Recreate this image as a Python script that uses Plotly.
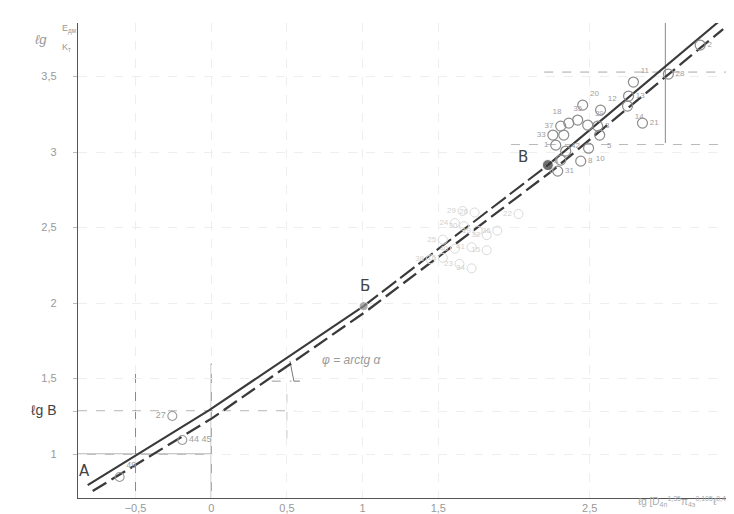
import plotly.graph_objects as go

# ---- data ----
# main correlation lines (solid upper, dashed lower)
line_solid_x = [-0.816, -0.013, 1.007, 2.224, 3.349]
line_solid_y = [0.795, 1.291, 1.980, 2.914, 3.861]
line_dash_x = [-0.783, 0.007, 1.026, 2.250, 3.382]
line_dash_y = [0.755, 1.238, 1.947, 2.874, 3.815]

# experimental points (upper cluster)
pts_x = [3.23, 3.02, 2.789, 2.757, 2.75, 2.849, 2.572, 2.454, 2.362, 2.421, 2.487,
         2.309, 2.257, 2.329, 2.553, 2.566, 2.493, 2.342, 2.276, 2.289, 2.441, 2.309]
pts_y = [3.709, 3.517, 3.464, 3.371, 3.305, 3.192, 3.278, 3.311, 3.192, 3.212, 3.179,
         3.172, 3.113, 3.113, 3.172, 3.113, 3.026, 3.007, 3.046, 2.874, 2.940, 2.947]
pts_lab = ["2", "28", "11", "13", "14", "21", "12", "20", "18", "35", "39",
           "37", "33", "42", "3", "5", "10", "4", "1", "31", "8", "6"]
pts_pos = ["middle right", "middle right", "top right", "middle right", "bottom right",
           "middle right", "top right", "top right", "top left", "top center", "top right",
           "middle left", "middle left", "bottom right", "middle right", "bottom right",
           "bottom right", "bottom left", "middle left", "middle right", "middle right",
           "bottom left"]

# faint points (middle cluster)
mid_x = [1.66, 1.74, 1.61, 1.67, 1.76, 1.82, 1.89, 1.53, 1.61, 1.72, 1.82, 1.45, 1.53, 1.64, 1.72, 2.03]
mid_y = [2.61, 2.60, 2.53, 2.51, 2.48, 2.45, 2.48, 2.42, 2.36, 2.37, 2.35, 2.29, 2.30, 2.26, 2.23, 2.59]
mid_lab = ["29", "26", "24", "30", "19", "32", "36", "25", "40", "41", "15", "38", "16", "23", "34", "22"]

# lower points
low_x = [-0.257, -0.191, -0.605]
low_y = [1.252, 1.093, 0.848]
low_lab = ["27", "44 45", "49"]
low_pos = ["middle left", "middle right", "top right"]

# characteristic points Б and В
key_x = [1.007, 2.224]
key_y = [1.980, 2.914]
key_col = ["#8a8a8a", "#333333"]

lgB = 1.285
x_ticks = [-0.5, 0, 0.5, 1, 1.5, 2.5]
x_ticktext = ["−0,5", "0", "0,5", "1", "1,5", "2,5"]
y_ticks = [1, lgB, 1.5, 2, 2.5, 3, 3.5]
y_ticktext = ["1", "<span style='color:#444;font-size:14px'>ℓg B</span>", "1,5", "2", "2,5", "3", "3,5"]

fig = go.Figure()

# lower dashed line
fig.add_trace(go.Scatter(x=line_dash_x, y=line_dash_y, mode="lines",
                         line=dict(color="#3a3a3a", width=2.3, dash="16px,6px"),
                         hoverinfo="skip", showlegend=False))
# upper solid line: solid A..Б, dashed Б..В, solid В..Г
fig.add_trace(go.Scatter(x=line_solid_x[:3], y=line_solid_y[:3], mode="lines",
                         line=dict(color="#3a3a3a", width=2.1), showlegend=False))
fig.add_trace(go.Scatter(x=line_solid_x[2:4], y=line_solid_y[2:4], mode="lines",
                         line=dict(color="#3a3a3a", width=2.1, dash="18px,5px"), showlegend=False))
fig.add_trace(go.Scatter(x=line_solid_x[3:], y=line_solid_y[3:], mode="lines",
                         line=dict(color="#3a3a3a", width=2.1), showlegend=False))

# faint middle cluster
fig.add_trace(go.Scatter(x=mid_x, y=mid_y, mode="markers+text", text=mid_lab,
                         textposition="middle left",
                         textfont=dict(size=8, color="#d2d2d2"),
                         marker=dict(symbol="circle-open", size=9, color="#dadada", line=dict(width=1)),
                         showlegend=False))
# upper cluster
fig.add_trace(go.Scatter(x=pts_x, y=pts_y, mode="markers+text", text=pts_lab,
                         textposition=pts_pos,
                         textfont=dict(size=8, color="#a0a0a0"),
                         marker=dict(symbol="circle-open", size=10, color="#8c8c8c", line=dict(width=1.2)),
                         showlegend=False))
# lower points
fig.add_trace(go.Scatter(x=low_x, y=low_y, mode="markers+text", text=low_lab,
                         textposition=low_pos,
                         textfont=dict(size=9, color="#a0a0a0"),
                         marker=dict(symbol="circle-open", size=9, color="#999999", line=dict(width=1.1)),
                         showlegend=False))
# key points
fig.add_trace(go.Scatter(x=key_x, y=key_y, mode="markers",
                         marker=dict(size=[9, 11], color=key_col),
                         showlegend=False))

# guide lines
guides = [
    # (x0, y0, x1, y1, color, dash, width)
    (-0.88, 1.0, 0.0, 1.0, "#8a8a8a", "solid", 1),
    (-0.5, 0.709, -0.5, 1.58, "#8a8a8a", "solid", 1),
    (0.0, 0.709, 0.0, 1.60, "#8a8a8a", "solid", 1),
    (-0.88, lgB, 0.55, lgB, "#8a8a8a", "dash", 1),
    (0.5, 1.10, 0.5, 1.45, "#c8c8c8", "dash", 1),
    (3.0, 3.855, 3.0, 3.06, "#8a8a8a", "solid", 1),
    (2.2, 3.53, 3.48, 3.53, "#a8a8a8", "dash", 1),
    (1.98, 3.05, 3.48, 3.05, "#b8b8b8", "dash", 1),
    (0.52, 1.616, 0.546, 1.483, "#777777", "solid", 1),
    (0.546, 1.483, 0.586, 1.483, "#777777", "solid", 1),
    (0.40, 1.483, 0.53, 1.483, "#999999", "dash", 1),
]
for x0, y0, x1, y1, c, d, w in guides:
    fig.add_shape(type="line", x0=x0, y0=y0, x1=x1, y1=y1, xref="x", yref="y",
                  line=dict(color=c, dash=d, width=w), layer="below")

# letter annotations
letters = [("A", -0.836, 0.89), ("Б", 1.013, 2.115), ("В", 2.06, 2.965), ("Г", 3.42, 3.86)]
for t, x, y in letters:
    fig.add_annotation(x=x, y=y, text=t, showarrow=False, xref="x", yref="y",
                       font=dict(size=15, color="#444", family="DejaVu Sans"))
fig.add_annotation(x=0.93, y=1.62, text="<i>φ = arctg α</i>", showarrow=False,
                   font=dict(size=12, color="#999"))

# axis titles
fig.add_annotation(xref="paper", yref="paper", x=-0.068, y=0.985, text="<i>ℓg</i>",
                   showarrow=False, font=dict(size=13, color="#999"))
fig.add_annotation(xref="paper", yref="paper", x=-0.028, y=1.005, text="E<sub>дм</sub>",
                   showarrow=False, font=dict(size=9, color="#999"))
fig.add_annotation(xref="paper", yref="paper", x=-0.028, y=0.965, text="K<sub>т</sub>",
                   showarrow=False, font=dict(size=9, color="#999"))
fig.add_annotation(xref="paper", yref="paper", x=0.99, y=-0.008, yanchor="middle", xanchor="right",
                   text="ℓg [D<sub>4n</sub><sup>1,35</sup>π<sub>4э</sub><sup>0,105</sup>ℓ<sup>0,4</sup>]",
                   showarrow=False, font=dict(size=10, color="#aaa"))

fig.update_layout(
    width=734, height=514,
    margin=dict(l=70, r=4, t=15, b=24),
    paper_bgcolor="white", plot_bgcolor="white",
    font=dict(family="Liberation Sans", size=11, color="#999"),
    showlegend=False,
)
fig.update_xaxes(range=[-0.88, 3.48], tickvals=x_ticks, ticktext=x_ticktext,
                 showline=True, linecolor="#555", linewidth=1.3,
                 ticks="", showgrid=True, gridcolor="#eeeeee", griddash="dash",
                 zeroline=False, tickfont=dict(size=11, color="#999"))
fig.update_yaxes(range=[0.709, 3.855], tickvals=y_ticks, ticktext=y_ticktext,
                 showline=True, linecolor="#555", linewidth=1.3,
                 ticks="outside", ticklen=4, tickcolor="#bbb",
                 showgrid=True, gridcolor="#eeeeee", griddash="dash",
                 zeroline=False, tickfont=dict(size=11, color="#999"),
                 ticklabelstandoff=14)

fig.write_html("out.html")
